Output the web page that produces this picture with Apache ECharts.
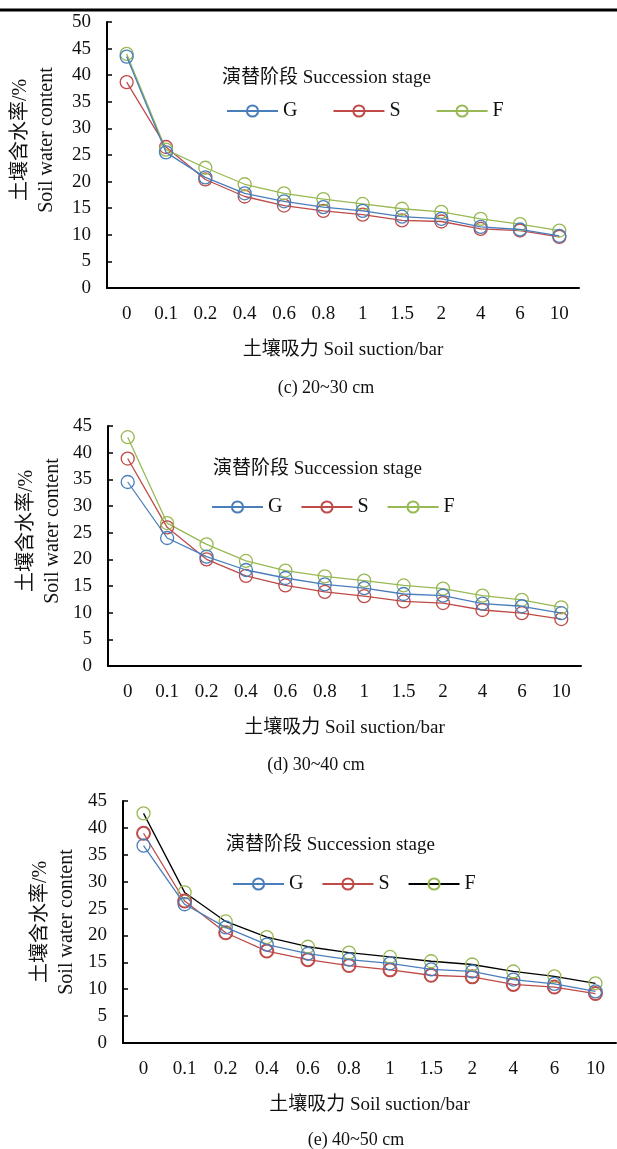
<!DOCTYPE html>
<html>
<head>
    <meta charset="UTF-8">
    <title>Soil water retention</title>
</head>
<style>
    html, body { margin: 0; padding: 0; background: #fff; }
    #chart { width: 617px; height: 1149px; }
</style>
<body>
<div id="chart"></div>
<script type="text/javascript" src="https://cdn.jsdelivr.net/npm/echarts@6/dist/echarts.min.js"></script>
<script>
    // 土壤吸力 (bar)
    var suction = ['0', '0.1', '0.2', '0.4', '0.6', '0.8', '1', '1.5', '2', '4', '6', '10'];

    // (c) 20~30 cm
    var gC = [43.5, 25.5, 20.8, 17.8, 16.3, 15.2, 14.5, 13.4, 13.0, 11.5, 11.0, 9.8];
    var sC = [38.7, 26.5, 20.4, 17.2, 15.5, 14.5, 13.8, 12.7, 12.5, 11.1, 10.8, 9.6];
    var fC = [44.0, 26.0, 22.6, 19.5, 17.8, 16.7, 15.8, 14.9, 14.3, 13.0, 12.0, 10.8];
    // (d) 30~40 cm
    var gD = [34.5, 24.0, 20.5, 18.0, 16.5, 15.3, 14.6, 13.5, 13.2, 11.7, 11.2, 9.9];
    var sD = [38.9, 26.0, 20.0, 16.9, 15.1, 13.9, 13.1, 12.1, 11.8, 10.5, 9.9, 8.8];
    var fD = [42.9, 26.8, 22.8, 19.7, 17.9, 16.8, 16.0, 15.1, 14.5, 13.2, 12.4, 11.0];
    // (e) 40~50 cm
    var gE = [36.7, 25.8, 21.5, 18.3, 16.6, 15.5, 14.8, 13.7, 13.3, 11.8, 11.0, 9.6];
    var sE = [39.0, 26.4, 20.5, 17.1, 15.5, 14.4, 13.6, 12.6, 12.3, 10.9, 10.4, 9.2];
    var fE = [42.7, 28.0, 22.6, 19.7, 17.9, 16.8, 16.0, 15.2, 14.6, 13.3, 12.4, 11.1];

    var yMax = [50, 45, 45];
    var captions = ['(c) 20~30 cm', '(d) 30~40 cm', '(e) 40~50 cm'];

    var BLUE = '#4a7ebb', RED = '#be4b48', GREEN = '#98b954';
    var FONT = '"Liberation Serif", "Noto Sans CJK SC", serif';
    var FS = 19;

    var grids = [
        {left: 107, top: 22, width: 472, height: 266},
        {left: 108, top: 426, width: 473, height: 240},
        {left: 123, top: 801, width: 493, height: 242}
    ];

    function mkX(i) {
        return {
            type: 'category', gridIndex: i, data: suction, boundaryGap: true,
            axisLine: {lineStyle: {color: '#000', width: 2}},
            axisTick: {inside: true, length: 5, lineStyle: {color: '#000', width: 1.5}},
            axisLabel: {color: '#111', fontSize: FS, fontFamily: FONT, margin: 17, interval: 0},
            name: '土壤吸力 Soil suction/bar', nameLocation: 'middle', nameGap: 53,
            nameTextStyle: {color: '#111', fontSize: FS, fontFamily: FONT}
        };
    }
    function mkY(i) {
        return {
            type: 'value', gridIndex: i, min: 0, max: yMax[i], interval: 5,
            axisLine: {show: true, lineStyle: {color: '#000', width: 2}},
            axisTick: {show: true, inside: true, length: 5, lineStyle: {color: '#000', width: 1.5}},
            axisLabel: {color: '#111', fontSize: FS, fontFamily: FONT, margin: 16},
            splitLine: {show: false}
        };
    }
    function mkSeries(name, i, data, lineColor, markColor, bw) {
        return {
            name: name, type: 'line', xAxisIndex: i, yAxisIndex: i, data: data,
            symbol: 'circle', symbolSize: 13,
            lineStyle: {color: lineColor, width: 1.3},
            itemStyle: {color: 'rgba(0,0,0,0)', borderColor: markColor, borderWidth: bw || 1.3},
            emphasis: {disabled: true},
            z: name.slice(2) === 'G' ? 3 : 2
        };
    }
    function mkLegend(p, left, top, gap) {
        return {
            data: [p + '-G', p + '-S', p + '-F'], left: left, top: top, padding: 0,
            itemGap: gap, itemWidth: 51, itemHeight: 14,
            formatter: function (n) { return n.slice(2); },
            textStyle: {color: '#111', fontSize: 20, fontFamily: FONT}
        };
    }
    function txt(x, y, text, opt) {
        opt = opt || {};
        return {
            type: 'text', x: x, y: y, rotation: opt.rot || 0,
            style: {
                text: text, fill: '#111', fontSize: opt.size || FS, fontFamily: FONT,
                textAlign: opt.align || 'center', textVerticalAlign: 'middle'
            }
        };
    }

    var rot = Math.PI / 2;
    var graphics = [
        {type: 'line', shape: {x1: 0, y1: 10, x2: 617, y2: 10}, style: {stroke: '#000', lineWidth: 3}},
        // legend titles
        txt(222, 78, '演替阶段 Succession stage', {align: 'left'}),
        txt(213, 469, '演替阶段 Succession stage', {align: 'left'}),
        txt(226, 845, '演替阶段 Succession stage', {align: 'left'}),
        // y-axis titles
        txt(21, 140, '土壤含水率/%', {rot: rot, size: 20}),
        txt(47, 140, 'Soil water content', {rot: rot, size: 20}),
        txt(27, 531, '土壤含水率/%', {rot: rot, size: 20}),
        txt(53, 531, 'Soil water content', {rot: rot, size: 20}),
        txt(41, 922, '土壤含水率/%', {rot: rot, size: 20}),
        txt(67, 922, 'Soil water content', {rot: rot, size: 20}),
        // captions
        txt(326, 388, captions[0], {size: 18}),
        txt(316, 765, captions[1], {size: 18}),
        txt(356, 1140, captions[2], {size: 18})
    ];

    var chart = echarts.init(document.getElementById('chart'));
    chart.setOption({
        animation: false,
        backgroundColor: '#fff',
        grid: grids,
        xAxis: [mkX(0), mkX(1), mkX(2)],
        yAxis: [mkY(0), mkY(1), mkY(2)],
        legend: [
            mkLegend('c', 226, 101, 35),
            mkLegend('d', 211, 497, 18),
            mkLegend('e', 232, 874, 18)
        ],
        series: [
            mkSeries('c-G', 0, gC, BLUE, BLUE),
            mkSeries('c-S', 0, sC, RED, RED),
            mkSeries('c-F', 0, fC, GREEN, GREEN),
            mkSeries('d-G', 1, gD, BLUE, BLUE),
            mkSeries('d-S', 1, sD, RED, RED),
            mkSeries('d-F', 1, fD, GREEN, GREEN),
            mkSeries('e-G', 2, gE, BLUE, BLUE),
            mkSeries('e-S', 2, sE, RED, RED, 2),
            mkSeries('e-F', 2, fE, '#000', GREEN)
        ],
        graphic: graphics
    });
</script>
</body>
</html>
